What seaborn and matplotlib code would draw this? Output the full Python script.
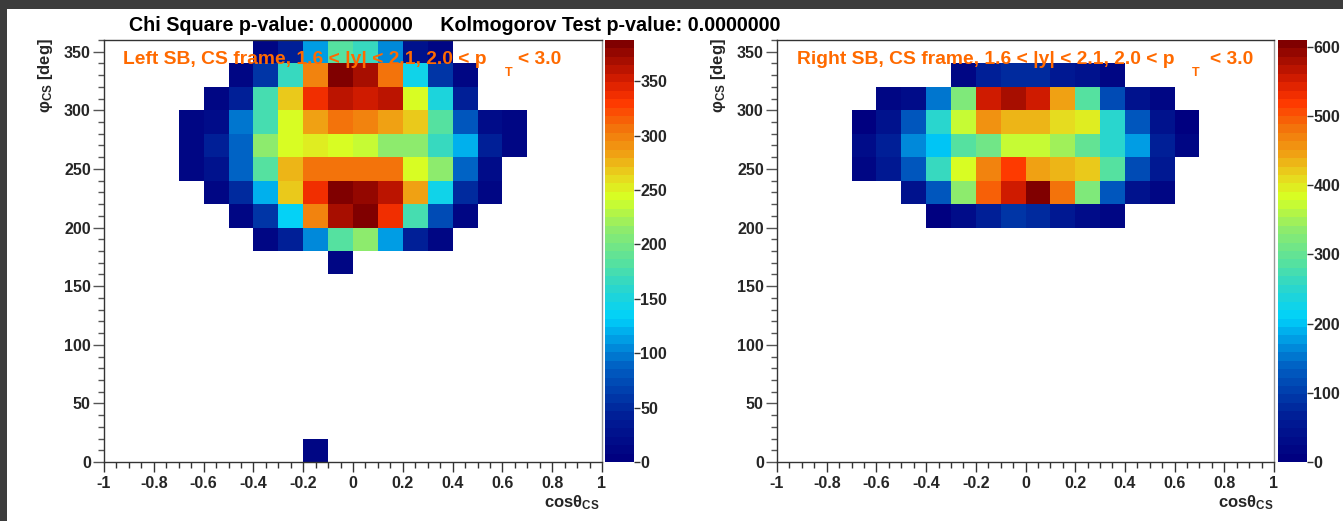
import numpy as np
import pandas as pd
import matplotlib
matplotlib.use("Agg")
import matplotlib.pyplot as plt
import seaborn as sns
from matplotlib.colors import LinearSegmentedColormap
from matplotlib.ticker import MultipleLocator, FuncFormatter
from matplotlib.patches import Rectangle

# ---------------- data (bin contents) ----------------
# each row: lower phi edge of the row, lower cos edge of first filled bin, bin contents
left_phi_low = [340, 320, 300, 280, 260, 240, 220, 200, 180, 160, 0]
left_cos_start = [-0.4, -0.5, -0.6, -0.7, -0.7, -0.7, -0.6, -0.5, -0.4, -0.1, -0.2]
left_counts = [
    [12, 39, 116, 182, 163, 105, 31, 12],
    [12, 62, 163, 295, 384, 369, 310, 140, 58, 12],
    [12, 39, 175, 268, 338, 361, 353, 357, 244, 155, 39],
    [8, 23, 97, 171, 248, 287, 303, 299, 287, 268, 186, 78, 23, 8],
    [8, 39, 93, 210, 241, 256, 248, 237, 217, 213, 167, 124, 39, 8],
    [8, 27, 93, 186, 279, 303, 303, 310, 310, 248, 213, 89, 23],
    [12, 50, 124, 268, 338, 384, 376, 357, 287, 140, 47, 12],
    [12, 58, 132, 299, 369, 388, 338, 178, 74, 12],
    [12, 39, 105, 186, 210, 109, 39, 12],
    [12],
    [12],
]

right_phi_low = [320, 300, 280, 260, 240, 220, 200]
right_cos_start = [-0.3, -0.6, -0.7, -0.7, -0.7, -0.5, -0.4]
right_counts = [
    [18, 61, 85, 85, 55, 37, 18],
    [18, 31, 153, 323, 561, 580, 555, 445, 287, 116, 37, 18],
    [12, 37, 122, 244, 378, 458, 427, 433, 409, 397, 250, 122, 37, 12],
    [31, 61, 165, 207, 281, 305, 378, 366, 348, 293, 256, 177, 61, 18],
    [18, 55, 134, 268, 384, 470, 519, 445, 427, 421, 287, 116, 49],
    [43, 134, 336, 494, 561, 610, 476, 329, 134, 43, 18],
    [12, 31, 61, 92, 79, 55, 31, 18],
]

left_cbar_ticks = [0, 50, 100, 150, 200, 250, 300, 350]
right_cbar_ticks = [0, 100, 200, 300, 400, 500, 600]

title_text = "Chi Square p-value: 0.0000000     Kolmogorov Test p-value: 0.0000000"
left_label = "Left SB, CS frame, 1.6 < |y| < 2.1, 2.0 < p"
right_label = "Right SB, CS frame, 1.6 < |y| < 2.1, 2.0 < p"

COS_W, PHI_W = 0.1, 20


def to_frame(phi_low, cos_start, counts):
    recs = []
    for p, c0, row in zip(phi_low, cos_start, counts):
        for j, v in enumerate(row):
            recs.append({"cos": c0 + COS_W * j + COS_W / 2, "phi": p + PHI_W / 2, "w": v})
    return pd.DataFrame(recs)


df_left = to_frame(left_phi_low, left_cos_start, left_counts)
df_right = to_frame(right_phi_low, right_cos_start, right_counts)

# ---------------- style ----------------
sns.set_theme(style="white")
plt.rcParams["font.family"] = ["Liberation Sans", "DejaVu Sans"]
plt.rcParams["font.weight"] = "bold"
plt.rcParams["mathtext.fontset"] = "custom"
plt.rcParams["mathtext.rm"] = "Liberation Sans:bold"
plt.rcParams["mathtext.it"] = "Liberation Sans:bold"
plt.rcParams["mathtext.bf"] = "Liberation Sans:bold"

stops = [
    (0.00, (0, 0, 128)), (0.10, (0, 30, 150)), (0.22, (0, 95, 195)),
    (0.30, (0, 170, 235)), (0.34, (0, 210, 250)), (0.40, (35, 212, 212)),
    (0.47, (85, 225, 160)), (0.55, (140, 235, 110)), (0.63, (215, 255, 35)),
    (0.68, (232, 215, 30)), (0.73, (240, 165, 20)), (0.79, (242, 120, 12)),
    (0.86, (255, 55, 0)), (0.91, (215, 30, 0)), (1.00, (128, 0, 0)),
]
cmap = LinearSegmentedColormap.from_list(
    "rootrainbow", [(f, tuple(v / 255 for v in c)) for f, c in stops]
).resampled(50)

W, H = 1343, 521
fig = plt.figure(figsize=(W / 100, H / 100), dpi=100)
fig.patch.set_facecolor("#3c3c3c")
fig.patches.append(Rectangle((7 / W, 0), 1 - 7 / W, 1 - 9 / H, transform=fig.transFigure,
                             facecolor="white", edgecolor="none", zorder=-10))


def px(x):
    return x / W


def py(y):
    return 1 - y / H


def box(x0, x1, y_top=40, y_bot=462):
    return [px(x0), py(y_bot), (x1 - x0) / W, (y_bot - y_top) / H]


ax1 = fig.add_axes(box(104, 602))
cax1 = fig.add_axes(box(605, 634))
ax2 = fig.add_axes(box(777, 1274))
cax2 = fig.add_axes(box(1278, 1307))

TICK_FS = 11.5
ORANGE = "#ff6a00"


def cos_fmt(v, _pos):
    v = round(v, 6)
    if abs(v) < 1e-9:
        return "0"
    return "%g" % v


for ax, cax, df, ticks in [(ax1, cax1, df_left, left_cbar_ticks),
                           (ax2, cax2, df_right, right_cbar_ticks)]:
    sns.histplot(data=df, x="cos", y="phi", weights="w", bins=(20, 18),
                 binrange=((-1, 1), (0, 360)), cmap=cmap, vmin=0, vmax=df["w"].max(),
                 cbar=True, cbar_ax=cax, ax=ax)
    ax.set_xlim(-1, 1)
    ax.set_ylim(0, 360)
    ax.set_xlabel("")
    ax.set_ylabel("")
    ax.xaxis.set_major_locator(MultipleLocator(0.2))
    ax.xaxis.set_minor_locator(MultipleLocator(0.05))
    ax.xaxis.set_major_formatter(FuncFormatter(cos_fmt))
    ax.yaxis.set_major_locator(MultipleLocator(50))
    ax.yaxis.set_minor_locator(MultipleLocator(10))
    ax.tick_params(axis="x", which="major", direction="out", length=7, width=1,
                   color="#333333", labelsize=TICK_FS, pad=3, bottom=True)
    ax.tick_params(axis="x", which="minor", direction="out", length=4, width=1,
                   color="#333333", bottom=True)
    ax.tick_params(axis="y", which="major", direction="out", length=8, width=1,
                   color="#555555", labelsize=TICK_FS, pad=1.5, left=True)
    ax.tick_params(axis="y", which="minor", direction="out", length=4, width=1,
                   color="#555555", left=True)
    for lab in ax.get_xticklabels() + ax.get_yticklabels():
        lab.set_fontweight("bold")
    for s in ax.spines.values():
        s.set_color("#333333")
        s.set_linewidth(1)
    ax.spines["right"].set_color("#999999")

    cb = ax.collections[0].colorbar
    cb.outline.set_visible(False)
    cb.set_ticks(ticks)
    cax.tick_params(axis="y", which="both", direction="out", length=4, width=1,
                    color="#333333", labelsize=TICK_FS, pad=0.5, right=True)
    cax.minorticks_off()
    for lab in cax.get_yticklabels():
        lab.set_fontweight("bold")

# titles and labels
fig.text(px(455), py(31), title_text, ha="center", va="baseline",
         fontsize=14.2, fontweight="bold", color="black")

for x0, lbl, xt, xr in [(123, left_label, 509, 518), (797, right_label, 1196, 1210)]:
    fig.text(px(x0), py(64), lbl, ha="left", va="baseline", fontsize=13.9,
             fontweight="bold", color=ORANGE)
    fig.text(px(xt), py(76), "T", ha="center", va="baseline", fontsize=9,
             fontweight="bold", color=ORANGE)
    fig.text(px(xr), py(64), "< 3.0", ha="left", va="baseline", fontsize=13.9,
             fontweight="bold", color=ORANGE)

for xc in (45, 719):
    fig.text(px(xc), py(38), r"$\mathrm{\varphi_{CS}}$ [deg]", rotation=90,
             ha="center", va="top", fontsize=12, fontweight="bold")
for xe in (600, 1274):
    fig.text(px(xe), py(507), r"cos$\mathrm{\theta_{CS}}$", ha="right", va="baseline",
             fontsize=12, fontweight="bold")

fig.savefig("out.png", dpi=100, facecolor=fig.get_facecolor())
